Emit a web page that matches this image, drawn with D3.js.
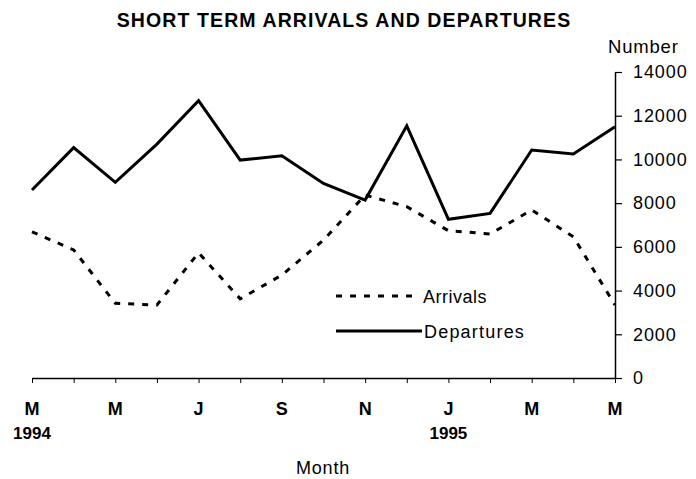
<!DOCTYPE html>
<html><head><meta charset="utf-8">
<script src="https://cdn.jsdelivr.net/npm/d3@7"></script>
<style>body{margin:0;background:#fff}svg{display:block;font-family:"Liberation Sans",Arial,sans-serif}</style>
</head><body><svg id="c" width="696" height="479"></svg>
<script>
const months = ["Mar94","Apr94","May94","Jun94","Jul94","Aug94","Sep94","Oct94","Nov94","Dec94","Jan95","Feb95","Mar95","Apr95","May95"];
const monthLabels = ["M","","M","","J","","S","","N","","J","","M","","M"];
const yearLabels = ["1994","","","","","","","","","","1995","","","",""];
const arrivals = [6690,5860,3420,3340,5730,3620,4710,6310,8370,7840,6740,6590,7690,6460,3340];
const departures = [8600,10540,8950,10700,12690,9970,10170,8900,8140,11540,7260,7530,10430,10250,11500];
const yTicks = [0,2000,4000,6000,8000,10000,12000,14000];

const svg = d3.select("#c");
const x = d3.scalePoint().domain(months).range([32,615]);
const y = d3.scaleLinear().domain([0,14000]).range([378,72]);

svg.append("text").attr("x",344).attr("y",27).attr("text-anchor","middle")
  .attr("font-weight","bold").attr("font-size",19.5).attr("letter-spacing",1.1)
  .text("SHORT TERM ARRIVALS AND DEPARTURES");
svg.append("text").attr("x",608).attr("y",53)
  .attr("font-size",18.5).attr("letter-spacing",0.8).text("Number");

const ya = svg.append("g").attr("transform","translate(615,0)")
  .call(d3.axisRight(y).tickValues(yTicks).tickSize(7).tickPadding(11).tickSizeOuter(0).tickFormat(d3.format("d")));
ya.select(".domain").attr("stroke","#000").attr("stroke-width",1.5);
ya.selectAll("line").attr("stroke-width",1.2);
ya.selectAll("text").attr("font-size",18).attr("letter-spacing",0.9)
  .attr("font-family","Liberation Sans, Arial, sans-serif").attr("fill","#000");

const xa = svg.append("g").attr("transform","translate(0,378)")
  .call(d3.axisBottom(x).tickSize(5).tickFormat("").tickSizeOuter(0));
xa.select(".domain").attr("stroke","#000").attr("stroke-width",1.5);
months.forEach((m,i)=>{
  if(monthLabels[i]) svg.append("text").attr("x",x(m)).attr("y",415).attr("text-anchor","middle")
    .attr("font-size",18).attr("font-weight","bold").text(monthLabels[i]);
  if(yearLabels[i]) svg.append("text").attr("x",x(m)).attr("y",439).attr("text-anchor","middle")
    .attr("font-size",17).attr("font-weight","bold").text(yearLabels[i]);
});
svg.append("text").attr("x",323).attr("y",474).attr("text-anchor","middle")
  .attr("font-size",18).attr("letter-spacing",0.8).text("Month");

const line = d3.line().x((d,i)=>x(months[i])).y(d=>y(d));
svg.append("path").datum(departures).attr("d",line).attr("fill","none")
  .attr("stroke","#000").attr("stroke-width",3).attr("stroke-linejoin","miter");
svg.append("path").datum(arrivals).attr("d",line).attr("fill","none")
  .attr("stroke","#000").attr("stroke-width",3).attr("stroke-dasharray","6,8");

// legend
svg.append("line").attr("x1",336).attr("x2",420).attr("y1",296).attr("y2",296)
  .attr("stroke","#000").attr("stroke-width",3).attr("stroke-dasharray","6,8");
svg.append("text").attr("x",423).attr("y",303).attr("font-size",18).attr("letter-spacing",0.5).text("Arrivals");
svg.append("line").attr("x1",336).attr("x2",422).attr("y1",331).attr("y2",331)
  .attr("stroke","#000").attr("stroke-width",3);
svg.append("text").attr("x",424).attr("y",338).attr("font-size",18).attr("letter-spacing",1.2).text("Departures");
</script></body></html>
